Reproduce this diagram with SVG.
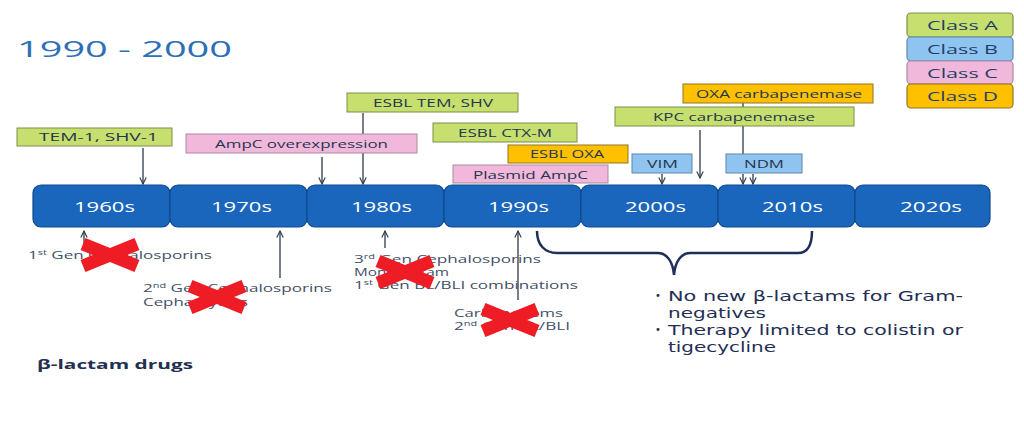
<svg xmlns="http://www.w3.org/2000/svg" width="1024" height="421" viewBox="0 0 1024 421">
<defs>
<marker id="ah" viewBox="0 0 10 10" refX="9" refY="5" markerWidth="8" markerHeight="8" markerUnits="userSpaceOnUse" orient="auto">
<path d="M1,1 L9,5 L1,9" fill="none" stroke="#2d3a4a" stroke-width="1.4"/>
</marker>
<g id="redx"><line x1="-27" y1="-11" x2="27" y2="11"/><line x1="-27" y1="11" x2="27" y2="-11"/></g>
</defs>
<style>
text{font-family:"Open Sans","DejaVu Sans",sans-serif}
.title{font-size:22px;fill:#2e6fb7}
.dec rect{fill:#1a66bd;stroke:#0e4a8c;stroke-width:1.2}
.dec text{font-size:15px;fill:#ffffff}
.lbl{font-size:11px;fill:#24364e}
.g rect{fill:#c6df6e;stroke:#7d8f4a;stroke-width:1}
.p rect{fill:#f2b8dc;stroke:#a98aa0;stroke-width:1}
.o rect{fill:#ffc000;stroke:#8f7428;stroke-width:1}
.b rect{fill:#8fc4f0;stroke:#5f86ab;stroke-width:1}
.leg rect{stroke-width:1.2}
.leg text{font-size:12px;fill:#1f3e66}
.conn line,.conn path{stroke:#2d3a4a;stroke-width:1.3;fill:none}
.drug{font-size:11px;fill:#3f5068}
.bul text{font-family:"DejaVu Sans",sans-serif;font-size:14px;fill:#1f2f55}
.bul text.dot{font-size:10px}
.x{stroke:#ee1c25;stroke-width:13;stroke-linecap:butt}
</style>
<rect width="1024" height="421" fill="#ffffff"/>
<text class="title" x="17" y="57" textLength="215" lengthAdjust="spacingAndGlyphs">1990 - 2000</text>

<g id="connectors" class="conn">
<line x1="143" y1="148" x2="143" y2="184" marker-end="url(#ah)"/>
<line x1="322" y1="157" x2="322" y2="184" marker-end="url(#ah)"/>
<line x1="363" y1="113" x2="363" y2="184" marker-end="url(#ah)"/>
<line x1="700" y1="130" x2="700" y2="178" marker-end="url(#ah)"/>
<line x1="743" y1="103" x2="743" y2="154"/>
<line x1="662" y1="174" x2="662" y2="184" marker-end="url(#ah)"/>
<line x1="743" y1="174" x2="743" y2="184" marker-end="url(#ah)"/>
<line x1="753" y1="174" x2="753" y2="184" marker-end="url(#ah)"/>
<line x1="84" y1="246" x2="84" y2="231" marker-end="url(#ah)"/>
<line x1="280" y1="278" x2="280" y2="231" marker-end="url(#ah)"/>
<line x1="385" y1="248" x2="385" y2="231" marker-end="url(#ah)"/>
<line x1="518" y1="300" x2="518" y2="231" marker-end="url(#ah)"/>
<path d="M537,231 C537,245 545,253 557,253 L658,253 C667,253 673,262 674,275 C675,262 681,253 690,253 L798,253 C808,253 812,245 812,231" style="stroke:#1f2f5a;stroke-width:2.5"/>
</g>

<g id="timeline" class="dec">
<g id="d1960"><rect x="33" y="185" width="137" height="42" rx="8"/><text x="74" y="212" textLength="61" lengthAdjust="spacingAndGlyphs">1960s</text></g>
<g id="d1970"><rect x="170" y="185" width="137" height="42" rx="8"/><text x="211" y="212" textLength="61" lengthAdjust="spacingAndGlyphs">1970s</text></g>
<g id="d1980"><rect x="307" y="185" width="137" height="42" rx="8"/><text x="351" y="212" textLength="61" lengthAdjust="spacingAndGlyphs">1980s</text></g>
<g id="d1990"><rect x="444" y="185" width="137" height="42" rx="8"/><text x="488" y="212" textLength="61" lengthAdjust="spacingAndGlyphs">1990s</text></g>
<g id="d2000"><rect x="581" y="185" width="137" height="42" rx="8"/><text x="625" y="212" textLength="61" lengthAdjust="spacingAndGlyphs">2000s</text></g>
<g id="d2010"><rect x="718" y="185" width="137" height="42" rx="8"/><text x="762" y="212" textLength="61" lengthAdjust="spacingAndGlyphs">2010s</text></g>
<g id="d2020"><rect x="855" y="185" width="135" height="42" rx="8"/><text x="900" y="212" textLength="62" lengthAdjust="spacingAndGlyphs">2020s</text></g>
</g>

<g id="tem1" class="g"><rect x="17" y="128" width="155" height="18"/><text class="lbl" x="39" y="141" textLength="119" lengthAdjust="spacingAndGlyphs">TEM-1, SHV-1</text></g>
<g id="esbltem" class="g"><rect x="347" y="93" width="171" height="19"/><text class="lbl" x="373" y="107" textLength="120" lengthAdjust="spacingAndGlyphs">ESBL TEM, SHV</text></g>
<g id="ampcover" class="p"><rect x="186" y="134" width="231" height="19"/><text class="lbl" x="215" y="148" textLength="173" lengthAdjust="spacingAndGlyphs">AmpC overexpression</text></g>
<g id="ctxm" class="g"><rect x="433" y="123" width="144" height="19"/><text class="lbl" x="458" y="137" textLength="94" lengthAdjust="spacingAndGlyphs">ESBL CTX-M</text></g>
<g id="esbloxa" class="o"><rect x="508" y="145" width="120" height="18"/><text class="lbl" x="530" y="158" textLength="74" lengthAdjust="spacingAndGlyphs">ESBL OXA</text></g>
<g id="plasmid" class="p"><rect x="453" y="165" width="155" height="18"/><text class="lbl" x="473" y="179" textLength="115" lengthAdjust="spacingAndGlyphs">Plasmid AmpC</text></g>
<g id="oxacarb" class="o"><rect x="683" y="84" width="190" height="19"/><text class="lbl" x="696" y="98" textLength="166" lengthAdjust="spacingAndGlyphs">OXA carbapenemase</text></g>
<g id="kpc" class="g"><rect x="615" y="107" width="239" height="19"/><text class="lbl" x="653" y="121" textLength="162" lengthAdjust="spacingAndGlyphs">KPC carbapenemase</text></g>
<g id="vim" class="b"><rect x="632" y="154" width="60" height="19"/><text class="lbl" x="647" y="168" textLength="31" lengthAdjust="spacingAndGlyphs">VIM</text></g>
<g id="ndm" class="b"><rect x="726" y="154" width="76" height="19"/><text class="lbl" x="744" y="168" textLength="40" lengthAdjust="spacingAndGlyphs">NDM</text></g>

<g id="legend" class="leg">
<g id="classA" class="g"><rect x="907" y="13" width="106" height="24" rx="4"/><text x="927" y="30" textLength="71" lengthAdjust="spacingAndGlyphs">Class A</text></g>
<g id="classB" class="b"><rect x="907" y="37" width="106" height="24" rx="4"/><text x="927" y="54" textLength="71" lengthAdjust="spacingAndGlyphs">Class B</text></g>
<g id="classC" class="p"><rect x="907" y="61" width="106" height="23" rx="4"/><text x="927" y="78" textLength="71" lengthAdjust="spacingAndGlyphs">Class C</text></g>
<g id="classD" class="o"><rect x="907" y="84" width="106" height="24" rx="4"/><text x="927" y="101" textLength="71" lengthAdjust="spacingAndGlyphs">Class D</text></g>
</g>

<g id="drugs1960">
<text class="drug" x="28" y="259" textLength="184" lengthAdjust="spacingAndGlyphs">1<tspan font-size="7" dy="-4">st</tspan><tspan dy="4"> Gen Cephalosporins</tspan></text>
</g>
<g id="drugs1970">
<text class="drug" x="143" y="292" textLength="189" lengthAdjust="spacingAndGlyphs">2<tspan font-size="7" dy="-4">nd</tspan><tspan dy="4"> Gen Cephalosporins</tspan></text>
<text class="drug" x="143" y="306" textLength="105" lengthAdjust="spacingAndGlyphs">Cephamycins</text>
</g>
<g id="drugs1980">
<text class="drug" x="354" y="263" textLength="187" lengthAdjust="spacingAndGlyphs">3<tspan font-size="7" dy="-4">rd</tspan><tspan dy="4"> Gen Cephalosporins</tspan></text>
<text class="drug" x="354" y="276" textLength="95" lengthAdjust="spacingAndGlyphs">Monobactam</text>
<text class="drug" x="354" y="289" textLength="224" lengthAdjust="spacingAndGlyphs">1<tspan font-size="7" dy="-4">st</tspan><tspan dy="4"> Gen BL/BLI combinations</tspan></text>
</g>
<g id="drugs1990">
<text class="drug" x="454" y="317" textLength="109" lengthAdjust="spacingAndGlyphs">Carbapenems</text>
<text class="drug" x="454" y="330" textLength="116" lengthAdjust="spacingAndGlyphs">2<tspan font-size="7" dy="-4">nd</tspan><tspan dy="4"> Gen BL/BLI</tspan></text>
</g>

<g id="crosses" class="x">
<use href="#redx" transform="translate(110,255)"/>
<use href="#redx" transform="translate(217,297)"/>
<use href="#redx" transform="translate(405,272)"/>
<use href="#redx" transform="translate(510,320)"/>
</g>

<g id="notes" class="bul">
<text class="dot" x="655" y="299">•</text>
<text x="668" y="301" textLength="295" lengthAdjust="spacingAndGlyphs">No new β-lactams for Gram-</text>
<text x="668" y="317.5" textLength="98" lengthAdjust="spacingAndGlyphs">negatives</text>
<text class="dot" x="655" y="333">•</text>
<text x="668" y="335" textLength="295" lengthAdjust="spacingAndGlyphs">Therapy limited to colistin or</text>
<text x="668" y="351.5" textLength="108" lengthAdjust="spacingAndGlyphs">tigecycline</text>
</g>

<text x="37" y="369" textLength="156" lengthAdjust="spacingAndGlyphs" style="font-size:13px;font-weight:bold;fill:#1f3050">β-lactam drugs</text>
</svg>
